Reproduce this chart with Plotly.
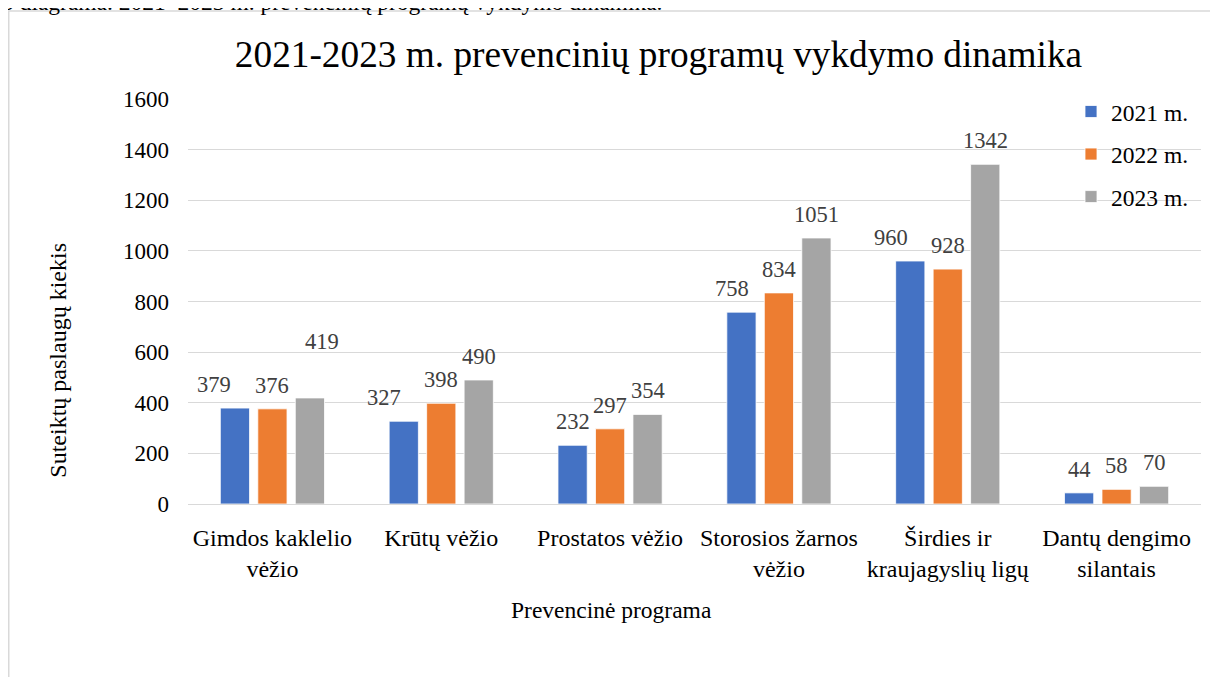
import plotly.graph_objects as go

# ---- data ----
categories = ["Gimdos kaklelio<br>vėžio", "Krūtų vėžio", "Prostatos vėžio",
              "Storosios žarnos<br>vėžio", "Širdies ir<br>kraujagyslių ligų",
              "Dantų dengimo<br>silantais"]
years = ["2021 m.", "2022 m.", "2023 m."]
v2021 = [379, 327, 232, 758, 960, 44]
v2022 = [376, 398, 297, 834, 928, 58]
v2023 = [419, 490, 354, 1051, 1342, 70]
y_ticks = [0, 200, 400, 600, 800, 1000, 1200, 1400, 1600]

title_text = "2021-2023 m. prevencinių programų vykdymo dinamika"
caption_text = "5 diagrama. 2021–2023 m. prevencinių programų vykdymo dinamika."
y_title = "Suteiktų paslaugų kiekis"
x_title = "Prevencinė programa"

# ---- style ----
colors = ["#4472C4", "#ED7D31", "#A5A5A5"]
FONT = "Liberation Serif"
BARGAP = 0.334
BARGROUPGAP = 0.22
W, H = 1210, 669
ML, MR, MT, MB = 180, 17, 91, 172.5
PW = W - ML - MR
PH = H - MT - MB

def px_x(p):
    return (p - ML) / PW

def px_y(p):
    return (H - MB - p) / PH

# manual nudges of some data labels (series idx, category idx) -> (dx px, dy px)
label_nudges = {(0, 0): (-21, 0), (2, 0): (12, 33), (0, 1): (-20, 0),
                (0, 3): (-9, 0), (0, 4): (-19, 0)}

series = [v2021, v2022, v2023]
fig = go.Figure()
for k, (name, vals) in enumerate(zip(years, series)):
    fig.add_trace(go.Bar(
        x=categories, y=vals, name=name, legendgroup=name,
        marker=dict(color=colors[k], line=dict(color="white", width=0.8)),
        hoverinfo="x+y+name",
    ))

annotations = []
slot = (1 - BARGAP) / 3
for k, vals in enumerate(series):
    for i, v in enumerate(vals):
        dx, dy = label_nudges.get((k, i), (0, 0))
        annotations.append(dict(
            x=i + (k - 1) * slot, y=v, xref="x", yref="y",
            text=str(v), showarrow=False, yanchor="bottom", xanchor="center",
            xshift=dx, yshift=9 + dy,
            font=dict(family=FONT, size=22.5, color="#404040"),
        ))

# axis titles and caption
annotations.append(dict(
    x=px_x(50), y=px_y(353), xref="paper", yref="paper", text=y_title,
    textangle=-90, showarrow=False, xanchor="center", yanchor="middle",
    font=dict(family=FONT, size=24, color="#000000"),
))
annotations.append(dict(
    x=px_x(603), y=px_y(603), xref="paper", yref="paper", text=x_title,
    showarrow=False, xanchor="center", yanchor="middle",
    font=dict(family=FONT, size=23.5, color="#000000"),
))
annotations.append(dict(
    x=px_x(-8), y=px_y(8.5), xref="paper", yref="paper", text=caption_text,
    showarrow=False, xanchor="left", yanchor="bottom",
    font=dict(family=FONT, size=23.5, color="#000000"),
))

fig.update_layout(
    width=W, height=H,
    margin=dict(l=ML, r=MR, t=MT, b=MB, pad=0),
    paper_bgcolor="white", plot_bgcolor="white",
    barmode="group", bargap=BARGAP, bargroupgap=BARGROUPGAP,
    title=dict(text=title_text, x=px_x(650.5), xref="paper", xanchor="center",
               y=1 - 46 / H, yref="container", yanchor="middle",
               font=dict(family=FONT, size=37.3, color="#000000")),
    font=dict(family=FONT, size=23.5, color="#000000"),
    legend=dict(x=px_x(1063), y=px_y(81.7), xanchor="left", yanchor="top",
                bgcolor="rgba(0,0,0,0)", tracegroupgap=9,
                font=dict(family=FONT, size=23.5, color="#000000")),
    annotations=annotations,
    shapes=[dict(type="rect", xref="paper", yref="paper",
                 x0=px_x(0.75), x1=px_x(1260), y0=px_y(720), y1=px_y(3),
                 line=dict(color="#d9d9d9", width=1.5), layer="below")],
)
fig.update_xaxes(showgrid=False, showline=False, zeroline=False,
                 ticks="", ticklabelstandoff=17,
                 tickfont=dict(family=FONT, size=24, color="#000000"))
fig.update_yaxes(range=[0, 1600], tickvals=y_ticks, showgrid=True,
                 gridcolor="#d9d9d9", gridwidth=1.3, zeroline=True,
                 zerolinecolor="#d9d9d9", zerolinewidth=1.3,
                 showline=False, ticks="", ticklabelstandoff=18,
                 tickfont=dict(family=FONT, size=23, color="#000000"))

fig.write_html("out.html")
